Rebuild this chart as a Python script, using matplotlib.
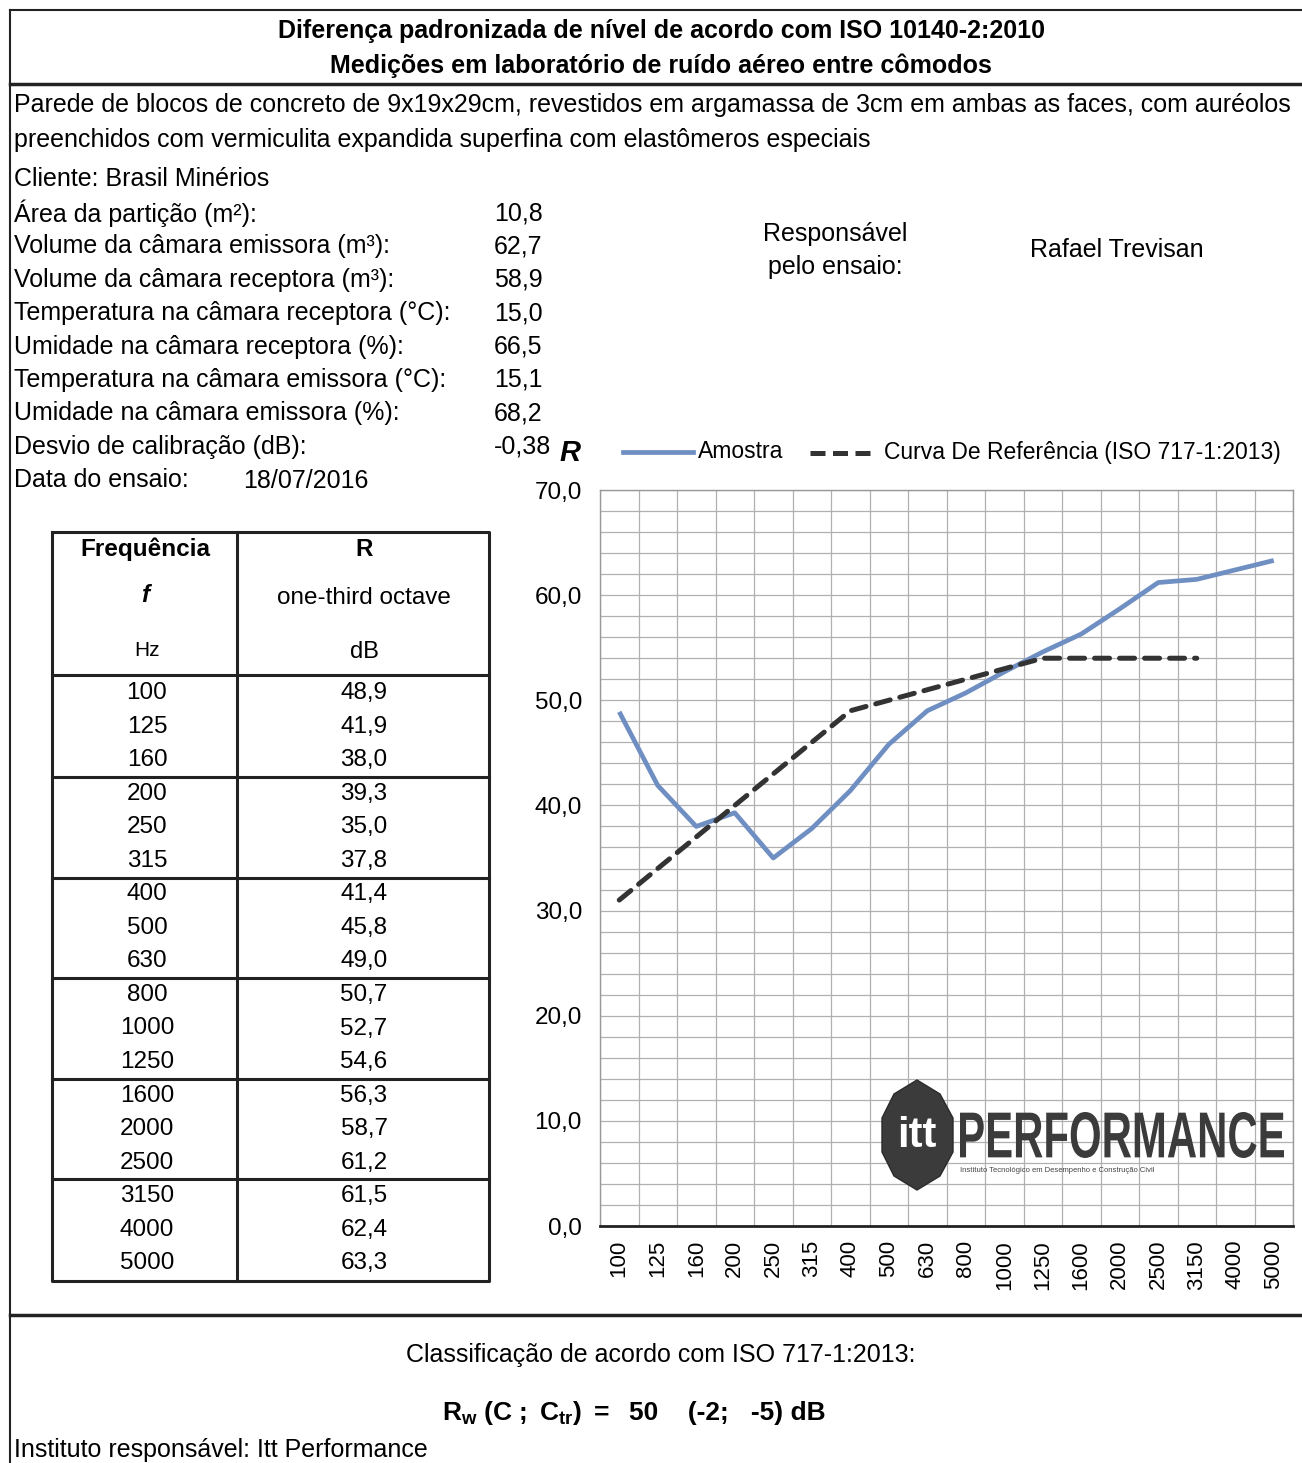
import numpy as np
import matplotlib
matplotlib.use("Agg")
import matplotlib.pyplot as plt
from matplotlib.lines import Line2D
from matplotlib.patches import Polygon, PathPatch
from matplotlib.textpath import TextPath
from matplotlib.font_manager import FontProperties
from matplotlib.ticker import MultipleLocator, FuncFormatter
from matplotlib import transforms

plt.rcParams['font.family'] = ['Liberation Sans', 'DejaVu Sans']
plt.rcParams['mathtext.fontset'] = 'custom'
plt.rcParams['mathtext.rm'] = 'Liberation Sans'
plt.rcParams['mathtext.bf'] = 'Liberation Sans:bold'
plt.rcParams['mathtext.it'] = 'Liberation Sans:italic'

# data
freqs = [100, 125, 160, 200, 250, 315, 400, 500, 630, 800,
         1000, 1250, 1600, 2000, 2500, 3150, 4000, 5000]
r_values = [48.9, 41.9, 38.0, 39.3, 35.0, 37.8, 41.4, 45.8, 49.0, 50.7,
            52.7, 54.6, 56.3, 58.7, 61.2, 61.5, 62.4, 63.3]
ref_values = [31, 34, 37, 40, 43, 46, 49, 50, 51, 52, 53, 54, 54, 54, 54, 54]

info_labels = ["Área da partição (m²):", "Volume da câmara emissora (m³):",
               "Volume da câmara receptora (m³):", "Temperatura na câmara receptora (°C):",
               "Umidade na câmara receptora (%):", "Temperatura na câmara emissora (°C):",
               "Umidade na câmara emissora (%):", "Desvio de calibração (dB):"]
info_values = ["10,8", "62,7", "58,9", "15,0", "66,5", "15,1", "68,2", "-0,38"]

W, H = 1302, 1463
BLUE = "#6f8fc3"
DARK = "#333333"
FS = 18


def fmt(v):
    return f"{v:.1f}".replace(".", ",")


fig = plt.figure(figsize=(W / 100, H / 100), dpi=100)
fig.patch.set_facecolor("white")

# pixel coordinates, y going down
px = transforms.Affine2D().scale(1, -1).translate(0, H)


def txt(x, y, s, **kw):
    kw.setdefault("fontsize", FS)
    kw.setdefault("va", "center")
    fig.text(x, y, s, transform=px, **kw)


def line(xs, ys, lw=1.5, color="#222222", **kw):
    fig.add_artist(Line2D(xs, ys, transform=px, lw=lw, color=color, **kw))


# page frame
line([10, W], [10, 10], lw=1.5)
line([10, W], [84, 84], lw=2.5)
line([10, 10], [10, H], lw=1.5)
line([10, W], [1315, 1315], lw=2.5)

txt(661, 31, "Diferença padronizada de nível de acordo com ISO 10140-2:2010",
    fontweight="bold", ha="center", fontsize=18)
txt(661, 66, "Medições em laboratório de ruído aéreo entre cômodos",
    fontweight="bold", ha="center", fontsize=18)

txt(14, 105, "Parede de blocos de concreto de 9x19x29cm, revestidos em argamassa de 3cm em ambas as faces, com auréolos")
txt(14, 140, "preenchidos com vermiculita expandida superfina com elastômeros especiais")
txt(14, 179, "Cliente: Brasil Minérios")
for i, (lab, val) in enumerate(zip(info_labels, info_values)):
    y = 213 + i * 33.4
    txt(14, y, lab)
    txt(494, y, val)
txt(14, 480, "Data do ensaio:")
txt(243, 481, "18/07/2016")

txt(835, 234, "Responsável", ha="center")
txt(835, 267, "pelo ensaio:", ha="center")
txt(1117, 250, "Rafael Trevisan", ha="center")

# table
tl, tr, tc = 52, 489, 237
line([tl, tr, tr, tl, tl], [532, 532, 1281, 1281, 532], lw=2.2)
line([tc, tc], [532, 1281], lw=2.2)
line([tl, tr], [675, 675], lw=2.2)
txt(145, 549, "Frequência", fontweight="bold", ha="center", fontsize=17.5)
txt(145, 596, "f", fontweight="bold", fontstyle="italic", ha="center", fontsize=17.5)
txt(147, 651, "Hz", ha="center", fontsize=15)
txt(364, 549, "R", fontweight="bold", ha="center", fontsize=17.5)
txt(364, 598, "one-third octave", ha="center", fontsize=17.5)
txt(364, 652, "dB", ha="center", fontsize=17)
step = 33.55
for i, (f, r) in enumerate(zip(freqs, r_values)):
    y = 693 + i * step
    txt(147, y, str(f), ha="center", fontsize=17.5)
    txt(364, y, fmt(r), ha="center", fontsize=17.5)
    if i % 3 == 2 and i < len(freqs) - 1:
        line([tl, tr], [y + step / 2, y + step / 2], lw=2.2)

# chart
x0, x1, ytop, ybot = 600, 1293, 490, 1226
ax = fig.add_axes([x0 / W, 1 - ybot / H, (x1 - x0) / W, (ybot - ytop) / H])
ax.set_facecolor("none")
xs = np.arange(len(freqs))
ax.plot(xs, r_values, color=BLUE, lw=3.4, solid_capstyle="butt", zorder=3)
ax.plot(xs[:len(ref_values)], ref_values, color=DARK, lw=3.6, ls=(0, (3, 2)),
        dash_capstyle="round", zorder=4)
ax.set_xlim(-0.5, len(freqs) - 0.5)
ax.set_ylim(0, 70)
ax.set_xticks(xs)
ax.set_xticklabels([str(f) for f in freqs], rotation=90, fontsize=16)
ax.set_xticks(np.arange(-0.5, len(freqs), 1), minor=True)
ax.yaxis.set_major_locator(MultipleLocator(10))
ax.yaxis.set_minor_locator(MultipleLocator(2))
ax.yaxis.set_major_formatter(FuncFormatter(lambda v, p: fmt(v)))
ax.tick_params(axis="y", length=0, pad=13, labelsize=17.5)
ax.tick_params(axis="x", length=0, pad=10)
ax.tick_params(which="minor", length=0)
ax.grid(which="minor", color="#b0b0b0", lw=0.9)
ax.grid(which="major", axis="y", color="#b0b0b0", lw=0.9)
for s in ["left", "right", "top"]:
    ax.spines[s].set_color("#999999")
    ax.spines[s].set_linewidth(1.0)
ax.spines["bottom"].set_color("#222222")
ax.spines["bottom"].set_linewidth(2)

# legend
txt(570, 453, "R", fontweight="bold", fontstyle="italic", fontsize=21, ha="center")
line([623, 693], [452, 452], lw=3.4, color=BLUE)
txt(698, 452, "Amostra", fontsize=16.5)
line([810, 870], [453, 453], lw=3.6, color=DARK, ls=(0, (3, 1.5)))
txt(884, 453, "Curva De Referência (ISO 717-1:2013)", fontsize=16.5)

# logo
logo = [(917, 1080), (940, 1094), (953, 1118), (953, 1152), (940, 1176), (917, 1190),
        (894, 1176), (882, 1152), (882, 1118), (894, 1094)]
fig.add_artist(Polygon(logo, closed=True, transform=px, facecolor="#3b3b3b",
                       edgecolor="#2a2a2a", lw=1))
txt(917, 1136, "itt", color="white", fontweight="bold", fontsize=30, ha="center")
tp = TextPath((0, 0), "PERFORMANCE", size=10, prop=FontProperties(family="Liberation Sans", weight="bold"))
ext = tp.get_extents()
sx = (1284 - 960) / ext.width
sy = 46 / ext.height
pt = transforms.Affine2D().translate(-ext.x0, -ext.y0).scale(sx, -sy).translate(960, 1158) + px
fig.add_artist(PathPatch(tp, transform=pt, facecolor="#3b3b3b", edgecolor="none"))
txt(960, 1170, "Instituto Tecnológico em Desempenho e Construção Civil", fontsize=5.5, color="#444444")

# bottom
txt(661, 1355, "Classificação de acordo com ISO 717-1:2013:", ha="center")
txt(442, 1413, r"$\mathbf{R_w\ (C\ ;\ C_{tr})\ =}$", fontsize=19)
txt(629, 1413, "50    (-2;   -5) dB", fontweight="bold", fontsize=19)
txt(14, 1450, "Instituto responsável: Itt Performance")

fig.savefig("out.png", dpi=100, facecolor="white")
